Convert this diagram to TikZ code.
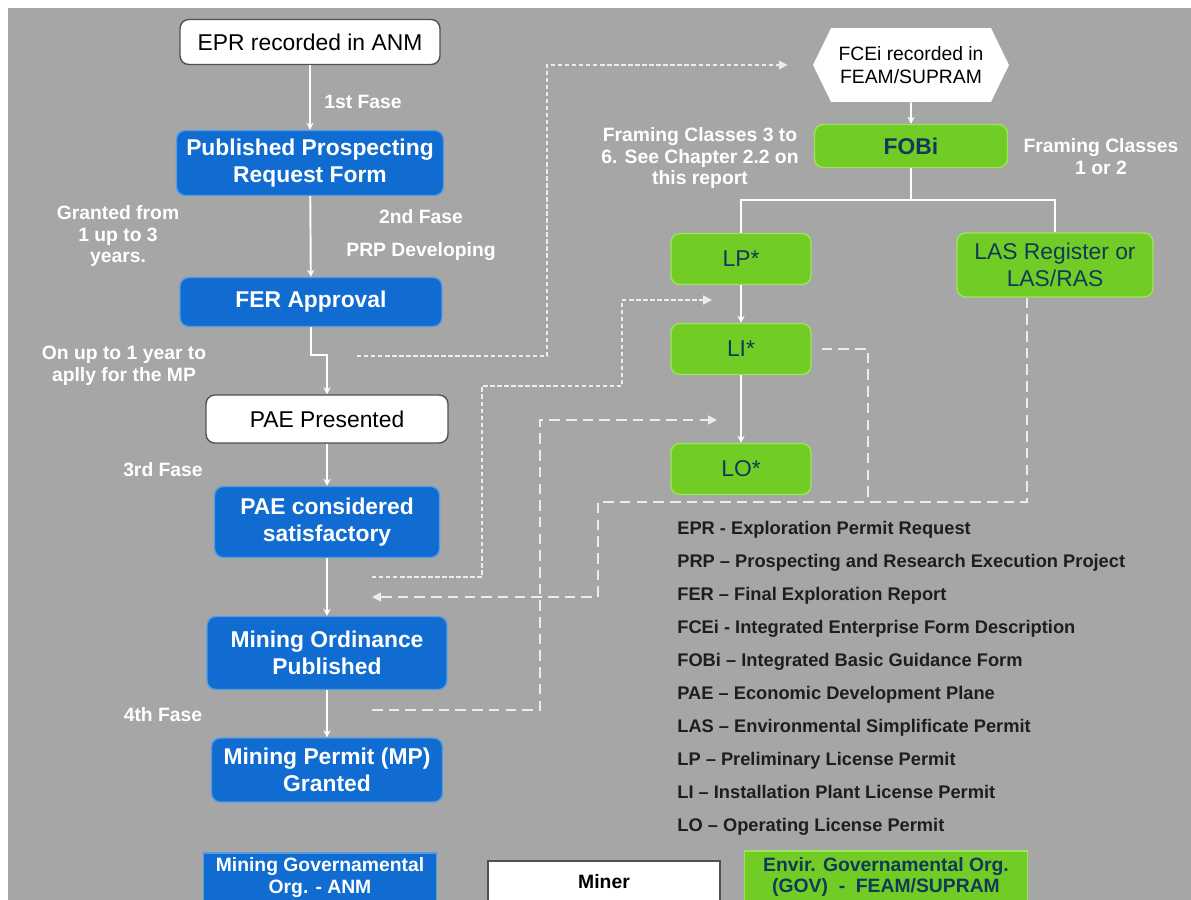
\documentclass[tikz,border=0pt]{standalone}
\usepackage{fontspec}
\setmainfont{Liberation Sans}
\usetikzlibrary{arrows.meta,shapes.symbols}
\definecolor{bggray}{RGB}{166,166,166}
\definecolor{anmblue}{RGB}{16,108,208}
\definecolor{anmedge}{RGB}{86,156,228}
\definecolor{govgreen}{RGB}{114,204,38}
\definecolor{govedge}{RGB}{156,228,90}
\definecolor{govtext}{RGB}{18,58,88}
\definecolor{minedge}{RGB}{80,80,80}
\definecolor{linkgray}{RGB}{236,236,236}
\definecolor{legtext}{RGB}{30,30,30}

\begin{document}
\begin{tikzpicture}[x=0.02cm,y=-0.02cm]
	\tikzset{anm/.style={draw=anmedge,line width=0.8pt,fill=anmblue,text=white,rounded corners=5pt,align=center,inner sep=2pt,font=\fontsize{13}{15}\selectfont\bfseries}}
	\tikzset{miner/.style={draw=minedge,line width=0.8pt,fill=white,text=black,rounded corners=5pt,align=center,inner sep=2pt,font=\fontsize{13}{15}\selectfont}}
	\tikzset{gov/.style={draw=govedge,line width=0.8pt,fill=govgreen,text=govtext,rounded corners=5pt,align=center,inner sep=2pt,font=\fontsize{13}{15}\selectfont}}
	\tikzset{flow/.style={draw=white,line width=1.1pt,-{Stealth[length=4pt,width=4pt]}}}
	\tikzset{branch/.style={draw=white,line width=1.1pt}}
	\tikzset{dotlink/.style={draw=linkgray,line width=0.9pt,dash pattern=on 2.5pt off 1.5pt,-{Triangle[length=5pt,width=5pt]}}}
	\tikzset{dashlink/.style={draw=linkgray,line width=0.9pt,dash pattern=on 6pt off 3.5pt}}
	\tikzset{note/.style={text=white,align=center,font=\fontsize{11}{12.5}\selectfont\bfseries}}
	\tikzset{abbr/.style={anchor=base west,inner sep=0pt,text=legtext,font=\fontsize{10.4}{12}\selectfont\bfseries}}
	\useasboundingbox (0,0) rectangle (1191,900);
	\fill[white] (0,0) rectangle (1191,900);
	\fill[bggray] (8,8) rectangle (1191,900);
	% ANM column
	\node[miner,minimum width=5.2cm,minimum height=0.9cm] (epr) at (310,42) {EPR recorded in ANM};
	\node[anm,minimum width=5.34cm,minimum height=1.3cm] (pprf) at (310,163) {Published Prospecting\\Request Form};
	\node[anm,minimum width=5.24cm,minimum height=0.98cm] (fer) at (311,302) {FER Approval};
	\node[miner,minimum width=4.84cm,minimum height=0.96cm] (paep) at (327,419) {PAE Presented};
	\node[anm,minimum width=4.5cm,minimum height=1.42cm] (paes) at (327,522) {PAE considered\\satisfactory};
	\node[anm,minimum width=4.8cm,minimum height=1.46cm] (mop) at (327,653) {Mining Ordinance\\Published};
	\node[anm,minimum width=4.62cm,minimum height=1.28cm] (mpg) at (327,770) {Mining Permit (MP)\\Granted};
	% FEAM/SUPRAM column
	\node[fill=white,shape=signal,signal to=east and west,signal pointer angle=128,minimum width=3.92cm,minimum height=1.48cm,inner sep=1pt,align=center,font=\fontsize{11}{13}\selectfont] (fcei) at (911,65) {FCEi recorded in\\FEAM/SUPRAM};
	\node[gov,font=\fontsize{13}{15}\selectfont\bfseries,minimum width=3.86cm,minimum height=0.86cm] (fobi) at (911,146) {FOBi};
	\node[gov,minimum width=2.8cm,minimum height=1.02cm] (lp) at (741,259) {LP*};
	\node[gov,minimum width=2.8cm,minimum height=1.02cm] (li) at (741,349) {LI*};
	\node[gov,minimum width=2.8cm,minimum height=1.02cm] (lo) at (741,469) {LO*};
	\node[gov,minimum width=3.92cm,minimum height=1.28cm] (las) at (1055,265) {LAS Register or\\LAS/RAS};
	% labels
	\node[note] (fase1) at (363,102) {1st Fase};
	\node[note] (granted) at (118,236) {Granted from\\1 up to 3\\years.};
	\node[note] (fase2) at (421,217) {2nd Fase};
	\node[note] (prpdev) at (421,252) {PRP Developing};
	\node[note] (oneyear) at (124,366) {On up to 1 year to\\aplly for the MP};
	\node[note] (fase3) at (163,470) {3rd Fase};
	\node[note] (fase4) at (163,715) {4th Fase};
	\node[note] (classes36) at (700,158) {Framing Classes 3 to\\6. See Chapter 2.2 on\\this report};
	\node[note] (classes12) at (1101,157) {Framing Classes\\1 or 2};
	% free ends of the links
	\coordinate (ferlink) at (357,356);
	\coordinate (paelink) at (372,577);
	\coordinate (lpli) at (712,300);
	\coordinate (ordlink) at (372,710);
	\coordinate (lilo) at (717,420);
	\coordinate (paeback) at (372,597);
	% connectors
	\draw[flow] (epr) -- (pprf);
	\draw[flow] (pprf) -- (fer);
	\draw[flow] (fer.south) -- ++(0,28) -| (paep.north);
	\draw[flow] (paep) -- (paes);
	\draw[flow] (paes) -- (mop);
	\draw[flow] (mop) -- (mpg);
	\draw[flow] (fcei) -- (fobi);
	\draw[branch] (fobi.south) -- ++(0,32) -| (lp.north);
	\draw[branch] (fobi.south) -- ++(0,32) -| (las.north);
	\draw[flow] (lp) -- (li);
	\draw[flow] (li) -- (lo);
	\draw[dotlink] (ferlink) -- ++(190,0) |- ([xshift=-0.5cm]fcei.west);
	\draw[dotlink] (paelink) -| (482,386) -| (622,300) -- (lpli);
	\draw[dashlink,-{Triangle[length=5pt,width=5pt]}] (ordlink) -| (540,420) -- (lilo);
	\draw[dashlink] ([xshift=0.2cm]li.east) -| (868,502);
	\draw[dashlink,-{Triangle[length=5pt,width=5pt]}] ([xshift=-0.56cm]las.south) |- (598,502) |- (paeback);
	% legend
	\foreach \txt [count=\i] in {EPR - Exploration Permit Request,PRP – Prospecting and Research Execution Project,FER – Final Exploration Report,FCEi - Integrated Enterprise Form Description,FOBi – Integrated Basic Guidance Form,PAE – Economic  Development Plane,LAS – Environmental Simplificate Permit,LP – Preliminary License Permit,LI – Installation Plant License Permit,LO – Operating License Permit}
		\node[abbr] (abbr\i) at (677,{534+33*(\i-1)}) {\txt};
	\node[anm,rounded corners=0pt,minimum width=4.66cm,minimum height=1.0cm,font=\fontsize{11}{12.5}\selectfont\bfseries] (keyanm) at (320,878) {Mining Governamental\\Org. - ANM};
	\node[miner,rounded corners=0pt,minimum width=4.64cm,minimum height=0.84cm,font=\fontsize{11}{12.5}\selectfont\bfseries] (keyminer) at (604,882) {Miner};
	\node[gov,rounded corners=0pt,minimum width=5.66cm,minimum height=1.04cm,font=\fontsize{11}{12.5}\selectfont\bfseries] (keygov) at (886,877) {Envir. Governamental Org.\\(GOV) \ - \ FEAM/SUPRAM};
\end{tikzpicture}
\end{document}
